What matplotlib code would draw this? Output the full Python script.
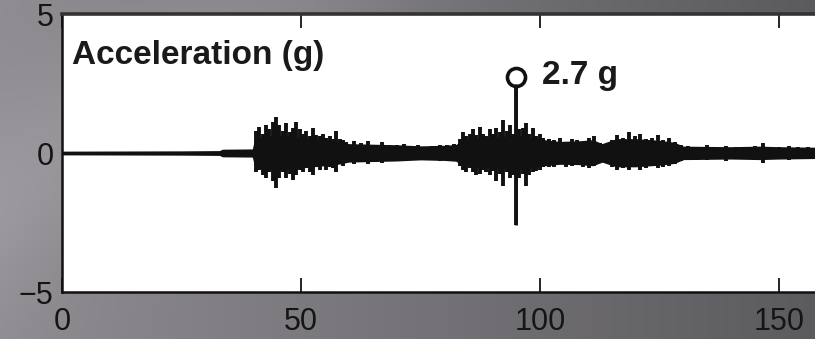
import numpy as np
import matplotlib.pyplot as plt

# envelope of the dense core of the record (time in s, acceleration in g)
env_t = [0, 25, 33, 33.6, 40, 40.5, 42, 45, 50, 55, 58, 60, 65, 70, 75, 80, 82.5,
         84, 88, 92, 95, 98, 100, 104, 108, 111, 113, 116, 120, 125, 128, 130,
         135, 140, 146, 150, 158, 170]
env_top = [0.03, 0.04, 0.05, 0.1, 0.11, 0.5, 0.55, 0.6, 0.52, 0.45, 0.38, 0.3,
           0.28, 0.26, 0.22, 0.24, 0.27, 0.46, 0.52, 0.56, 0.6, 0.52, 0.46, 0.38,
           0.4, 0.44, 0.3, 0.48, 0.48, 0.42, 0.35, 0.21, 0.2, 0.19, 0.21, 0.19,
           0.17, 0.14]
env_bot = [-0.03, -0.04, -0.05, -0.1, -0.11, -0.48, -0.53, -0.57, -0.5, -0.42,
           -0.36, -0.29, -0.27, -0.25, -0.21, -0.23, -0.26, -0.44, -0.5, -0.53,
           -0.57, -0.5, -0.44, -0.37, -0.38, -0.42, -0.29, -0.46, -0.46, -0.4,
           -0.34, -0.2, -0.19, -0.18, -0.2, -0.18, -0.16, -0.14]

# individual swings sticking out of the core
pk_t = [40.6, 41.3, 42.0, 42.7, 43.4, 44.1, 44.8, 45.5, 46.2, 46.9, 47.6, 48.3,
        49.0, 49.7, 50.4, 51.1, 51.8, 52.5, 53.2, 53.9, 54.6, 55.3, 56.0, 56.7,
        57.4, 58.1, 58.8, 59.5,
        61, 62.5, 64, 65.5, 67, 68.5, 70, 71.5, 73, 74.5, 76, 77.5, 79, 80.5, 82,
        83.2, 83.9, 84.6, 85.3, 86.0, 86.7, 87.4, 88.1, 88.8, 89.5, 90.2, 90.9,
        91.6, 92.3, 93.0, 93.7, 94.4, 95.0, 95.7, 96.4, 97.1, 97.8, 98.5, 99.2,
        99.9, 100.6,
        101.8, 103, 104.2, 105.4, 106.6, 107.8, 109, 110.2, 111.4, 112.6, 113.8,
        115, 116.2, 117.4, 118.6, 119.8, 121, 122.2, 123.4, 124.6, 125.8, 127,
        128.2, 129.4,
        131, 133, 135, 137, 139, 141, 143, 145, 146.7, 148, 150, 152, 154, 156,
        158, 160, 162]
pk_top = [0.8, 0.95, 0.7, 1.0, 0.85, 1.1, 1.3, 1.0, 0.8, 1.08, 0.75, 0.9,
          1.1, 0.85, 0.7, 0.8, 0.6, 0.9, 0.65, 0.6, 0.7, 0.55, 0.6, 0.5,
          0.8, 0.5, 0.45, 0.4,
          0.42, 0.35, 0.42, 0.3, 0.38, 0.3, 0.28, 0.32, 0.25, 0.28, 0.22, 0.25,
          0.3, 0.28, 0.32,
          0.5, 0.75, 0.6, 0.7, 0.85, 0.65, 0.94, 0.7, 0.6, 0.85, 0.7, 0.9,
          0.75, 1.2, 0.8, 1.0, 0.7, 2.45, 0.85, 0.9, 1.07, 0.7, 0.9, 0.6,
          0.7, 0.55,
          0.5, 0.45, 0.55, 0.4, 0.5, 0.45, 0.4, 0.55, 0.6, 0.35, 0.3,
          0.45, 0.65, 0.55, 0.75, 0.6, 0.7, 0.5, 0.55, 0.65, 0.45, 0.55,
          0.4, 0.3,
          0.25, 0.22, 0.28, 0.2, 0.26, 0.22, 0.2, 0.24, 0.37, 0.22, 0.2, 0.25,
          0.2, 0.22, 0.18, 0.2, 0.18]
pk_bot = [-0.7, -0.6, -0.8, -0.9, -0.7, -1.0, -1.25, -0.9, -0.7, -0.9, -0.75,
          -0.97, -0.8, -0.6, -0.7, -0.55, -0.7, -0.8, -0.5, -0.6, -0.45, -0.6,
          -0.5, -0.55, -0.68, -0.4, -0.45, -0.35,
          -0.4, -0.3, -0.4, -0.32, -0.35, -0.28, -0.3, -0.3, -0.24, -0.22,
          -0.25, -0.22, -0.28, -0.3, -0.3,
          -0.45, -0.6, -0.7, -0.55, -0.7, -0.8, -0.75, -0.6, -0.7, -0.8, -0.65,
          -1.0, -0.75, -1.2, -0.7, -0.9, -0.8, -2.6, -0.9, -0.75, -1.2, -0.8,
          -0.7, -0.65, -0.6, -0.5,
          -0.5, -0.5, -0.4, -0.5, -0.45, -0.4, -0.5, -0.55, -0.45, -0.35, -0.3,
          -0.5, -0.6, -0.55, -0.6, -0.5, -0.6, -0.55, -0.45, -0.55, -0.5,
          -0.45, -0.4, -0.3,
          -0.22, -0.24, -0.25, -0.2, -0.28, -0.2, -0.22, -0.2, -0.35, -0.22,
          -0.2, -0.25, -0.18, -0.2, -0.18, -0.18, -0.16]

pga_t, pga = 95, 2.72

plt.rcParams['font.family'] = ['Liberation Sans', 'DejaVu Sans']

fig = plt.figure(figsize=(8.15, 3.39), dpi=100)

# gray gradient backdrop
bg = fig.add_axes([0, 0, 1, 1], zorder=-5)
xx, yy = np.meshgrid(np.linspace(0, 1, 400), np.linspace(0, 1, 200))
shade = 0.56 - 0.2 * xx + 0.05 * np.exp(-((xx + 0.6 * yy - 0.35) / 0.18) ** 2)
bg.imshow(np.dstack([shade, shade * 0.985, shade * 1.02]).clip(0, 1),
          aspect='auto', extent=[0, 1, 0, 1])
bg.set_axis_off()

ax = fig.add_axes([0.0761, 0.1386, 0.997, 0.8201])
ax.set_facecolor('white')
ax.fill_between(env_t, env_bot, env_top, color='#111111', lw=1.5)
ax.vlines(pk_t, pk_bot, pk_top, color='#111111', lw=2.8)
# the peak swing itself is narrow
ax.vlines([pga_t], [pk_bot[pk_t.index(pga_t)]], [pga - 0.25],
          color='#111111', lw=2.0)
ax.plot([pga_t], [pga], 'o', ms=13, mfc='none', mec='#111111', mew=2.6)

ax.text(2, 3.5, 'Acceleration (g)', fontsize=24, fontweight='bold',
        color='#1a1a1a', va='center', ha='left')
ax.text(100.5, 2.78, '2.7 g', fontsize=24, fontweight='bold',
        color='#1a1a1a', va='center', ha='left')

ax.set_xlim(0, 170)
ax.set_ylim(-5, 5)
ax.set_xticks([0, 50, 100, 150])
ax.set_yticks([-5, 0, 5])
ax.set_yticklabels(['\u22125', '0', '5'])
ax.tick_params(direction='in', length=10, width=1.2, labelsize=22,
               labelcolor='#151515', top=True, pad=11)
ax.tick_params(axis='y', length=0, pad=6)
for s in ax.spines.values():
    s.set_linewidth(1.8)
    s.set_color('#111111')
ax.spines['top'].set_color('#333333')
ax.spines['top'].set_linewidth(2.6)

fig.savefig('out.png', dpi=100)
